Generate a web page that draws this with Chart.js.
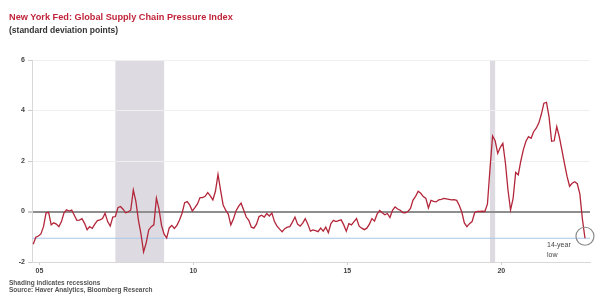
<!DOCTYPE html>
<html><head><meta charset="utf-8">
<script src="https://cdn.jsdelivr.net/npm/chart.js@4/dist/chart.umd.min.js"></script>
<style>
html,body{margin:0;padding:0;background:#fff;}
#wrap{position:relative;width:603px;height:302px;overflow:hidden;font-family:"Liberation Sans",Arial,sans-serif;}
canvas{position:absolute;left:0;top:0;}
.t{position:absolute;white-space:nowrap;}
</style></head><body>
<div id="wrap">
<canvas id="c" width="603" height="302"></canvas>
<div class="t" style="left:9px;top:12px;font-size:9.2px;line-height:10px;font-weight:bold;color:#c0243a;">New York Fed: Global Supply Chain Pressure Index</div>
<div class="t" style="left:9px;top:26px;font-size:8.5px;line-height:9px;font-weight:bold;color:#333;">(standard deviation points)</div>
<div class="t" style="left:9px;top:279px;font-size:6.5px;line-height:7px;font-weight:bold;color:#555;">Shading indicates recessions</div>
<div class="t" style="left:9px;top:286px;font-size:6.5px;line-height:7px;font-weight:bold;color:#555;">Source: Haver Analytics, Bloomberg Research</div>
<div class="t" style="left:547px;top:241px;font-size:7px;line-height:8px;color:#444;">14-year</div>
<div class="t" style="left:547px;top:251px;font-size:7px;line-height:8px;color:#444;">low</div>
</div>
<script>
// Monthly GSCPI readings, starting April 2005
const startYear = 2005, startMonth = 4;
const values = [
-1.30,-1.02,-0.97,-0.89,-0.60,-0.05,-0.03,-0.53,-0.45,-0.50,-0.60,-0.40,
-0.05,0.07,0.02,0.06,-0.15,-0.35,-0.34,-0.28,-0.47,-0.72,-0.60,-0.67,
-0.50,-0.36,-0.33,-0.28,-0.07,-0.40,-0.58,-0.22,-0.20,0.15,0.20,0.09,
-0.05,-0.02,0.06,0.85,0.40,-0.35,-0.90,-1.60,-1.25,-0.73,-0.60,-0.53,
0.53,0.10,-0.55,-0.90,-1.05,-0.65,-0.55,-0.67,-0.55,-0.34,-0.07,0.35,
0.39,0.25,0.02,0.15,0.30,0.55,0.55,0.60,0.75,0.62,0.46,0.80,
1.47,0.85,0.26,0.05,-0.10,-0.53,-0.30,0.02,0.20,0.33,0.06,-0.22,
-0.35,-0.62,-0.66,-0.50,-0.20,-0.15,-0.22,-0.08,-0.18,-0.06,-0.40,-0.58,
-0.70,-0.80,-0.68,-0.62,-0.60,-0.42,-0.22,-0.50,-0.58,-0.46,-0.28,-0.50,
-0.78,-0.73,-0.76,-0.80,-0.66,-0.78,-0.62,-0.84,-0.48,-0.35,-0.40,-0.36,
-0.33,-0.53,-0.78,-0.48,-0.53,-0.40,-0.28,-0.58,-0.66,-0.72,-0.66,-0.50,
-0.28,-0.38,-0.10,0.04,-0.05,-0.13,-0.08,-0.24,0.05,0.18,0.10,0.05,
-0.04,-0.05,0.00,0.12,0.45,0.60,0.80,0.72,0.59,0.52,0.14,0.44,
0.40,0.38,0.46,0.48,0.52,0.50,0.48,0.46,0.47,0.44,0.25,-0.02,
-0.45,-0.60,-0.48,-0.40,-0.05,0.00,0.00,0.01,0.00,0.30,1.70,2.99,
2.80,2.30,2.54,2.70,1.92,0.85,0.06,0.52,1.55,1.45,2.00,2.45,
2.78,2.96,2.90,3.16,3.30,3.50,3.85,4.29,4.32,3.75,2.78,2.80,
3.36,2.96,2.44,1.91,1.40,1.00,1.12,1.18,1.10,0.70,-0.30,-1.06
];
const tickYears = [2005, 2010, 2015, 2020];
const tickLabels = ['05', '10', '15', '20'];
const recessionStarts = [2007.917, 2020.083];
const recessionEnds = [2009.5, 2020.25];
const lowLevel = -1.06;

const xMin = 2005.21, xMax = 2023.33;
const monthPos = values.map((_, i) => startYear + (startMonth - 1) / 12 + i / 12);
const points = values.map((v, i) => ({x: monthPos[i], y: v}));

const bandPlugin = {
  id: 'bands',
  beforeDraw(chart) {
    const {ctx, chartArea, scales} = chart;
    ctx.save();
    ctx.fillStyle = '#dddae1';
    recessionStarts.forEach((s, i) => {
      const x0 = scales.x.getPixelForValue(s), x1 = scales.x.getPixelForValue(recessionEnds[i]);
      ctx.fillRect(x0, chartArea.top, x1 - x0, chartArea.bottom - chartArea.top);
    });
    ctx.restore();
  },
  afterDatasetsDraw(chart) {
    const {ctx, scales} = chart;
    const last = points[points.length - 1];
    const px = scales.x.getPixelForValue(last.x), py = scales.y.getPixelForValue(last.y);
    ctx.save();
    ctx.strokeStyle = '#8a8a8a';
    ctx.lineWidth = 1.2;
    ctx.beginPath();
    ctx.arc(px, py - 2, 9, 0, Math.PI * 2);
    ctx.stroke();
    ctx.restore();
  }
};

new Chart(document.getElementById('c'), {
  type: 'line',
  data: {
    datasets: [
      {data: points, borderColor: '#b3263a', borderWidth: 1.3, pointRadius: 0, tension: 0},
      {data: [{x: xMin, y: lowLevel}, {x: xMax, y: lowLevel}], borderColor: '#a9c7e8', borderWidth: 1, pointRadius: 0}
    ]
  },
  options: {
    responsive: false, animation: false, devicePixelRatio: 1,
    layout: {padding: {left: 0, top: 60, right: 13, bottom: 26}},
    plugins: {legend: {display: false}, tooltip: {enabled: false}},
    scales: {
      x: {
        type: 'linear', min: xMin, max: xMax,
        afterBuildTicks: sc => { sc.ticks = tickYears.map(v => ({value: v + 0.45})); },
        afterFit: sc => { sc.height = 14; },
        ticks: {callback: (v, i) => tickLabels[i], font: {size: 7, weight: 'bold', family: 'Liberation Sans'}, color: '#444', padding: 2, maxRotation: 0, autoSkip: false},
        grid: {drawOnChartArea: false, tickLength: 3, color: '#d0d0d0'},
        border: {color: '#d8d8d8'}
      },
      y: {
        min: -2, max: 6,
        afterFit: sc => { sc.width = 32; },
        ticks: {stepSize: 2, font: {size: 7, weight: 'bold', family: 'Liberation Sans'}, color: '#444', padding: 3},
        grid: {
          color: c => c.tick && c.tick.value === 0 ? '#8e8e8e' : '#efefef',
          lineWidth: c => c.tick && c.tick.value === 0 ? 2 : 1,
          tickColor: '#cccccc', tickLength: 4
        },
        border: {color: '#d8d8d8'}
      }
    }
  },
  plugins: [bandPlugin]
});
</script>
</body></html>
